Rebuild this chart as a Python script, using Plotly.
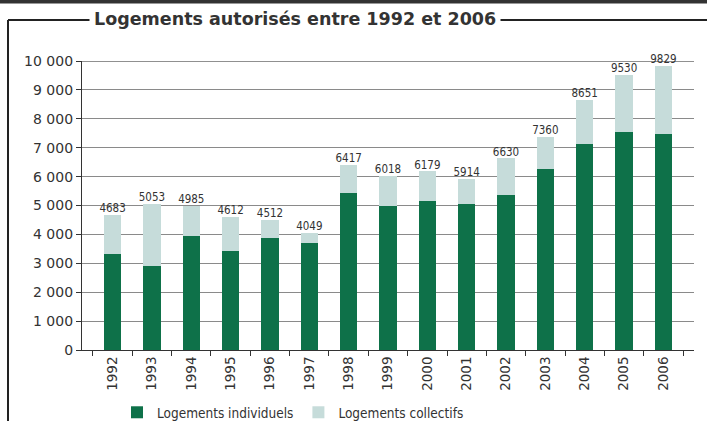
import plotly.graph_objects as go

years = ["1992", "1993", "1994", "1995", "1996", "1997", "1998", "1999",
         "2000", "2001", "2002", "2003", "2004", "2005", "2006"]
totals = [4683, 5053, 4985, 4612, 4512, 4049, 6417, 6018, 6179, 5914, 6630, 7360, 8651, 9530, 9829]
individuels = [3320, 2910, 3945, 3435, 3875, 3700, 5445, 4985, 5155, 5050, 5365, 6265, 7130, 7545, 7475]
collectifs = [t - i for t, i in zip(totals, individuels)]

W, H = 707, 421
L, R, T, B = 82, 694, 61, 350

def px(x):
    return (x - L) / (R - L)

def py(y):
    return (B - y) / (B - T)

GREEN = "#0E7149"
LIGHT = "#C6DCDA"
TXT = "#333333"
NARROW = "DejaVu Sans Condensed"

fig = go.Figure()
fig.add_trace(go.Bar(x=years, y=individuels, name="Logements individuels",
                     marker=dict(color=GREEN, line=dict(width=0))))
fig.add_trace(go.Bar(x=years, y=collectifs, name="Logements collectifs",
                     marker=dict(color=LIGHT, line=dict(width=0))))
fig.add_trace(go.Scatter(x=years, y=totals, mode="text", text=[str(t) for t in totals],
                         textposition="top center", showlegend=False, cliponaxis=False,
                         textfont=dict(family=NARROW, size=11.5, color=TXT)))

shapes = [
    dict(type="rect", xref="paper", yref="paper", x0=px(-2), x1=px(W + 2), y0=py(3.5), y1=py(-2),
         fillcolor="#333333", line=dict(width=0), layer="above"),
    dict(type="line", xref="paper", yref="paper", x0=px(8), x1=px(W + 2), y0=py(20), y1=py(20),
         line=dict(color="#222222", width=2)),
    dict(type="line", xref="paper", yref="paper", x0=px(8), x1=px(8), y0=py(20), y1=py(H + 2),
         line=dict(color="#222222", width=2)),
    dict(type="line", xref="paper", yref="y", x0=0, x1=1, y0=10000, y1=10000,
         line=dict(color="#222222", width=1.2)),
]

fig.update_layout(
    width=W, height=H,
    margin=dict(l=L, r=W - R, t=T, b=H - B, autoexpand=False),
    paper_bgcolor="white", plot_bgcolor="white",
    barmode="stack", bargap=0.56,
    separators=", ",
    font=dict(family="DejaVu Sans", color=TXT),
    shapes=shapes,
    showlegend=True,
    legend=dict(orientation="h", traceorder="normal", x=px(293), xanchor="center", y=py(397), yanchor="top",
                font=dict(family=NARROW, size=13.5, color=TXT),
                tracegroupgap=0, bgcolor="rgba(0,0,0,0)"),
    annotations=[dict(text="<b>Logements autorisés entre 1992 et 2006</b>", xref="paper", yref="paper",
                      x=px(295), y=py(19), xanchor="center", yanchor="middle", showarrow=False,
                      font=dict(family="DejaVu Sans", size=17.5, color=TXT),
                      bgcolor="white", borderpad=4)],
    xaxis=dict(type="category", showline=True, linecolor="#333333", linewidth=1.2,
               ticks="outside", ticklen=5, tickcolor="#333333", tickson="boundaries",
               tickangle=-90, tickfont=dict(size=13.5, color=TXT), showgrid=False),
    yaxis=dict(range=[0, 10000], tickvals=list(range(0, 10001, 1000)), tickformat=",d",
               showline=True, linecolor="#333333", linewidth=1.2,
               ticks="outside", ticklen=5, tickcolor="#333333",
               gridcolor="#8a8a8a", gridwidth=1.2, zeroline=False,
               tickfont=dict(size=14, color=TXT)),
)

fig.write_html("out.html", config={"displayModeBar": False},
               post_script="document.body.style.margin='0';document.body.style.padding='0';")
